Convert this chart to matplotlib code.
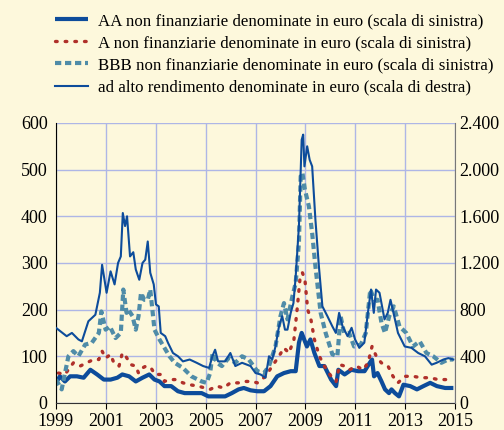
import matplotlib
matplotlib.use('Agg')
import matplotlib.pyplot as plt
from matplotlib.ticker import FuncFormatter

# decimal years, values
aa_x = [1999.0, 1999.16, 1999.36, 1999.57, 1999.84, 2000.11, 2000.38, 2000.65, 2000.92, 2001.19,
        2001.46, 2001.66, 2001.93, 2002.2, 2002.47, 2002.74, 2002.95, 2003.15, 2003.35, 2003.62,
        2003.89, 2004.16, 2004.5, 2004.84, 2005.11, 2005.45, 2005.78, 2006.05, 2006.32, 2006.53,
        2006.8, 2007.07, 2007.34, 2007.6, 2007.87, 2008.14, 2008.41, 2008.61, 2008.74, 2008.85,
        2008.95, 2009.06, 2009.2, 2009.36, 2009.56, 2009.76, 2010.03, 2010.23, 2010.32, 2010.57,
        2010.84, 2011.11, 2011.37, 2011.58, 2011.67, 2011.75, 2011.89, 2012.05, 2012.19, 2012.35,
        2012.45, 2012.59, 2012.75, 2012.93, 2013.2, 2013.47, 2013.73, 2014.0, 2014.27, 2014.6, 2014.93]
aa_y = [43, 57, 46, 57, 57, 54, 71, 61, 50, 50,
        54, 61, 57, 46, 54, 61, 50, 46, 36, 36,
        25, 21, 21, 21, 14, 14, 14, 21, 29, 32,
        27, 25, 25, 36, 57, 64, 68, 68, 129, 150,
        136, 121, 136, 107, 79, 79, 50, 36, 71, 61,
        71, 68, 68, 86, 93, 57, 64, 46, 29, 21,
        29, 21, 14, 39, 36, 29, 36, 43, 36, 32, 32]

a_x = [1999.1, 1999.36, 1999.7, 1999.97, 2000.24, 2000.5, 2000.72, 2000.85, 2000.99, 2001.19,
       2001.32, 2001.53, 2001.66, 2001.8, 2002.0, 2002.2, 2002.31, 2002.47, 2002.61, 2002.81,
       2002.97, 2003.2, 2003.35, 2003.55, 2003.82, 2004.09, 2004.36, 2004.7, 2004.97, 2005.18,
       2005.45, 2005.72, 2005.99, 2006.32, 2006.59, 2006.86, 2007.07, 2007.4, 2007.67, 2007.94,
       2008.14, 2008.34, 2008.54, 2008.68, 2008.79, 2008.88, 2008.98, 2009.09, 2009.22, 2009.36,
       2009.56, 2009.76, 2010.03, 2010.23, 2010.37, 2010.57, 2010.77, 2011.04, 2011.31, 2011.51,
       2011.67, 2011.84, 2012.04, 2012.31, 2012.51, 2012.71, 2012.98, 2013.31, 2013.65, 2013.98,
       2014.32, 2014.66, 2014.93]
a_y = [64, 61, 86, 79, 86, 93, 93, 111, 96, 104,
       86, 79, 107, 100, 82, 79, 64, 75, 79, 75,
       61, 61, 46, 50, 50, 43, 39, 36, 32, 29,
       36, 32, 43, 43, 46, 46, 43, 57, 79, 100,
       118, 107, 136, 207, 271, 279, 264, 200, 179, 136,
       100, 79, 57, 46, 82, 79, 71, 79, 71, 86,
       121, 100, 86, 79, 57, 43, 57, 57, 54, 54,
       50, 50, 46]

bbb_x = [1999.0, 1999.23, 1999.5, 1999.7, 1999.9, 2000.17, 2000.44, 2000.72, 2000.82, 2000.99,
         2001.16, 2001.39, 2001.6, 2001.7, 2001.83, 2001.9, 2002.07, 2002.2, 2002.31, 2002.41,
         2002.54, 2002.68, 2002.78, 2002.95, 2003.15, 2003.35, 2003.55, 2003.76, 2004.09, 2004.43,
         2004.84, 2005.04, 2005.18, 2005.28, 2005.45, 2005.65, 2005.92, 2006.19, 2006.46, 2006.73,
         2007.07, 2007.34, 2007.54, 2007.8, 2008.0, 2008.14, 2008.28, 2008.48, 2008.61, 2008.74,
         2008.81, 2008.88, 2008.98, 2009.14, 2009.27, 2009.4, 2009.61, 2009.81, 2010.08, 2010.28,
         2010.41, 2010.55, 2010.75, 2010.95, 2011.22, 2011.42, 2011.6, 2011.76, 2011.89, 2012.05,
         2012.19, 2012.36, 2012.54, 2012.77, 2013.04, 2013.31, 2013.58, 2013.85, 2014.12, 2014.45,
         2014.72, 2014.93]
bbb_y = [50, 29, 100, 111, 100, 125, 129, 150, 196, 157,
         164, 139, 150, 243, 193, 200, 186, 157, 186, 236,
         221, 221, 243, 157, 136, 118, 100, 86, 75, 57,
         46, 43, 64, 107, 86, 79, 96, 86, 100, 93,
         68, 64, 79, 121, 186, 214, 179, 229, 257, 343,
         486, 493, 457, 421, 364, 293, 193, 150, 104, 100,
         186, 150, 150, 121, 125, 150, 243, 221, 221, 171,
         150, 186, 207, 164, 150, 121, 132, 107, 100, 86,
         93, 93]

hy_x = [1999.0, 1999.43, 1999.64, 1999.9, 2000.04, 2000.3, 2000.58, 2000.76, 2000.85, 2001.03,
        2001.19, 2001.35, 2001.49, 2001.6, 2001.68, 2001.77, 2001.85, 2001.97, 2002.1, 2002.2,
        2002.34, 2002.47, 2002.58, 2002.68, 2002.78, 2002.92, 2003.01, 2003.12, 2003.2, 2003.38,
        2003.49, 2003.69, 2003.89, 2004.09, 2004.36, 2004.64, 2004.9, 2005.14, 2005.27, 2005.38,
        2005.5, 2005.78, 2005.99, 2006.19, 2006.46, 2006.8, 2007.0, 2007.2, 2007.4, 2007.54,
        2007.67, 2007.8, 2007.94, 2008.07, 2008.18, 2008.28, 2008.41, 2008.52, 2008.61, 2008.74,
        2008.85, 2008.91, 2008.96, 2009.07, 2009.17, 2009.27, 2009.4, 2009.54, 2009.68, 2009.88,
        2010.08, 2010.22, 2010.35, 2010.49, 2010.69, 2010.85, 2010.99, 2011.16, 2011.36, 2011.52,
        2011.63, 2011.74, 2011.83, 2011.97, 2012.17, 2012.3, 2012.41, 2012.5, 2012.71, 2012.98,
        2013.25, 2013.52, 2013.79, 2014.06, 2014.26, 2014.53, 2014.73, 2014.93]
hy_y = [644, 572, 600, 544, 528, 700, 756, 944, 1184, 944,
        1128, 1016, 1200, 1256, 1628, 1516, 1600, 1256, 1292, 1144,
        1056, 1200, 1228, 1384, 1116, 1016, 844, 828, 600, 572,
        516, 428, 400, 356, 372, 344, 316, 300, 400, 456,
        356, 356, 428, 316, 344, 316, 256, 244, 216, 400,
        372, 484, 656, 744, 628, 628, 772, 856, 1084, 1516,
        2256, 2300, 2028, 2200, 2084, 2028, 1572, 1172, 828, 744,
        656, 600, 772, 656, 572, 644, 544, 472, 516, 800,
        972, 772, 972, 944, 716, 772, 884, 800, 600, 484,
        472, 428, 400, 328, 344, 372, 384, 372]

bg = '#fdf8dc'
grid_c = '#aeb6e6'
blue = '#0d4c9b'

plt.rcParams['font.family'] = ['Liberation Serif', 'DejaVu Serif']

fig = plt.figure(figsize=(5.04, 4.30), dpi=100, facecolor=bg)
ax = fig.add_axes([0.111, 0.063, 0.792, 0.651])
ax.set_facecolor(bg)

l_aa, = ax.plot(aa_x, aa_y, color=blue, lw=3, solid_capstyle='butt',
                label='AA non finanziarie denominate in euro (scala di sinistra)')
l_a, = ax.plot(a_x, a_y, color='#b0302a', lw=2.4, linestyle=(0, (0.5, 2.4)),
               dash_capstyle='round',
               label='A non finanziarie denominate in euro (scala di sinistra)')
l_bbb, = ax.plot(bbb_x, bbb_y, color='#4f8ca8', lw=3, linestyle=(0, (1.5, 0.9)),
                 label='BBB non finanziarie denominate in euro (scala di sinistra)')

ax2 = ax.twinx()
ax2.patch.set_visible(False)
l_hy, = ax2.plot(hy_x, hy_y, color=blue, lw=1.5,
                 label='ad alto rendimento denominate in euro (scala di destra)')

ax.set_xlim(1999, 2015)
ax.set_ylim(0, 600)
ax2.set_ylim(0, 2400)
ax.set_xticks(range(1999, 2016, 2))
ax.set_yticks(range(0, 601, 100))
ax2.set_yticks(range(0, 2401, 400))
ax2.yaxis.set_major_formatter(FuncFormatter(lambda v, p: f'{int(v):,}'.replace(',', '.')))

ax.grid(True, color=grid_c, lw=1)
ax.spines['top'].set_visible(False)
ax2.spines['top'].set_visible(False)
ax2.spines['left'].set_visible(False)
ax2.spines['bottom'].set_visible(False)
ax2.spines['right'].set_color('#777777')
ax.spines['right'].set_visible(False)
ax.spines['left'].set_color('black')
ax.spines['bottom'].set_color('#333333')

ax.tick_params(axis='x', direction='out', length=4, labelsize=13, pad=3)
ax.tick_params(axis='y', length=0, labelsize=13, pad=6)
ax2.tick_params(axis='y', length=0, labelsize=13, pad=3)

fig.legend(handles=[l_aa, l_a, l_bbb, l_hy], loc='upper left',
           bbox_to_anchor=(0.095, 0.985), frameon=False, fontsize=12.2,
           handlelength=1.95, handletextpad=0.6, labelspacing=0.36,
           borderaxespad=0)

fig.savefig('out.png', dpi=100, facecolor=bg)
